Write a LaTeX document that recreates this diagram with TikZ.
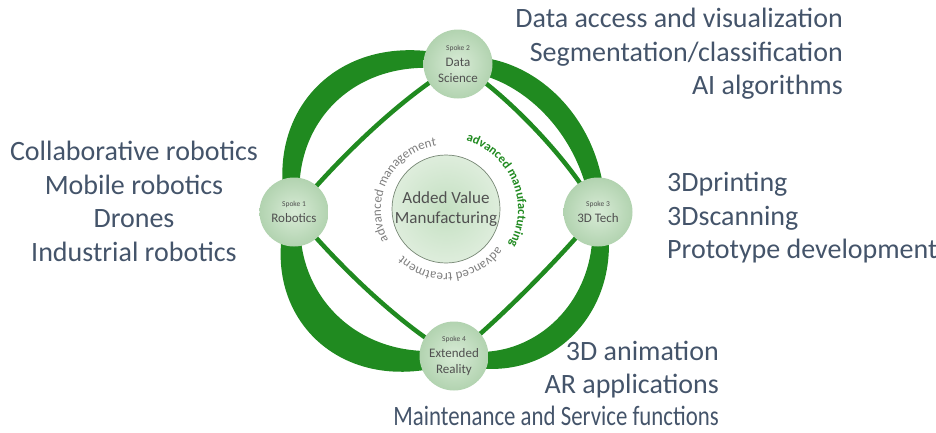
\documentclass[tikz,border=0pt]{standalone}
\usepackage{fontspec}
\setmainfont{Carlito}
\usetikzlibrary{calc,decorations.text,backgrounds}

\definecolor{ringgreen}{RGB}{32,138,32}
\definecolor{txtblue}{HTML}{44546A}
\definecolor{spokein}{RGB}{216,235,214}
\definecolor{spokeout}{RGB}{178,211,176}
\definecolor{hubin}{RGB}{196,224,194}
\definecolor{hubout}{RGB}{222,237,220}
\definecolor{labgray}{RGB}{80,80,80}
\definecolor{curvegray}{RGB}{125,125,125}

\newcommand{\spokeno}[1]{{\fontsize{7.5}{9}\selectfont #1}\\}

\tikzset{
  spoke/.style={circle, minimum size=69pt, inner sep=0pt, align=center,
    inner color=spokein, outer color=spokeout, text=labgray,
    font=\fontsize{13}{16}\selectfont},
  hub/.style={circle, minimum size=108pt, inner sep=0pt, align=center,
    draw=hubin!60!black, line width=0.7pt,
    inner color=hubin, outer color=hubout, text=labgray,
    font=\fontsize{17}{20}\selectfont},
  band/.style={fill=ringgreen},
  lens/.style={draw=ringgreen, line width=4.5pt},
  listtxt/.style={text=txtblue, inner sep=0pt,
    font=\fontsize{28}{33.5}\selectfont},
}

\begin{document}
\begin{tikzpicture}[x=1pt,y=1pt]
  \useasboundingbox (-446,-222) rectangle (490,210);

  % spokes and hub
  \node[spoke] (s1) at (-152,-2) {\spokeno{Spoke 1}Robotics};
  \node[spoke] (s2) at (12,146) {\spokeno{Spoke 2}Data\\Science};
  \node[spoke] (s3) at (152,-2) {\spokeno{Spoke 3}3D Tech};
  \node[spoke] (s4) at (8,-146) {\spokeno{Spoke 4}Extended\\Reality};
  \node[hub] (hub) at (0,1) {Added Value\\Manufacturing};

  % ring: one crescent band and one thin lens line per quarter
  \begin{scope}[on background layer]
    \foreach \a/\from/\to/\ro/\ri/\rt in {0/s3/s2/182/155/134,
        90/s2/s1/211/181/121, 180/s1/s4/217/176/124, 270/s4/s3/208/180/124}{
      \fill[band] ($(\from.center)+(\a:7)$)
          .. controls ({\a+29}:\ro) and ({\a+61}:\ro) .. ($(\to.center)+({\a+90}:7)$)
          -- ($(\to.center)+({\a+90}:-7)$)
          .. controls ({\a+61}:\ri) and ({\a+29}:\ri) .. ($(\from.center)+(\a:-7)$) -- cycle;
      \draw[lens] (\from.center) .. controls ({\a+23}:\rt) and ({\a+67}:\rt) .. (\to.center);
    }
  \end{scope}

  % words round the hub
  \path[decorate, decoration={text along path, text align=center,
      text={|\fontsize{13}{13}\selectfont\color{curvegray}|advanced management}}]
    (215:65) arc[start angle=215, end angle=91, radius=65];
  \path[decorate, decoration={text along path, text align=center,
      text={|\fontsize{12.5}{13}\bfseries\selectfont\color{ringgreen}|advanced manufacturing}}]
    (92:72) arc[start angle=92, end angle=-47, radius=72];
  \path[decorate, decoration={text along path, text align=center,
      text={|\fontsize{13}{13}\selectfont\color{curvegray}|advanced treatment}}]
    (-22:63) arc[start angle=-22, end angle=-147, radius=63];

  % lists
  \node[listtxt, align=right, anchor=north east] (datalist) at (397,202)
    {Data access and visualization\\Segmentation/classification\\AI algorithms};
  \node[listtxt, align=center, anchor=north] (robolist) at (-312,69)
    {Collaborative robotics\\Mobile robotics\\Drones\\Industrial robotics};
  \node[listtxt, align=left, anchor=north west] (techlist) at (221,38)
    {3Dprinting\\3Dscanning\\Prototype development};
  \node[listtxt, align=right, anchor=north east, font=\fontsize{28}{32.5}\selectfont]
    (xrlist) at (273,-131)
    {3D animation\\AR applications\\\scalebox{0.815}[1]{Maintenance and Service functions}};
\end{tikzpicture}
\end{document}
